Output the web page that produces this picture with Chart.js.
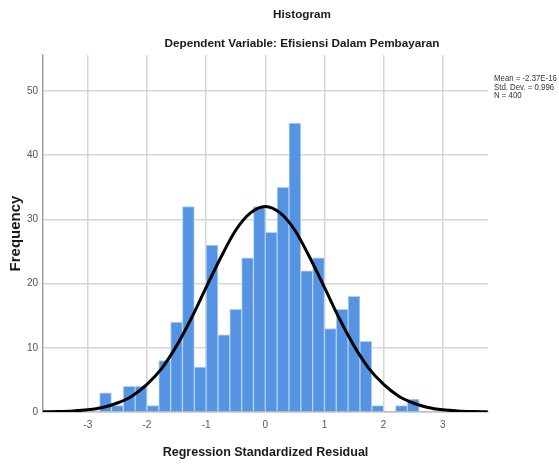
<!DOCTYPE html>
<html>
<head>
<meta charset="utf-8">
<script src="https://cdn.jsdelivr.net/npm/chart.js@4"></script>
<style>
    html, body { margin: 0; padding: 0; background: #fff; }
    #wrap { width: 559px; height: 464px; }
</style>
</head>
<body>
<div id="wrap"><canvas id="histChart" width="559" height="464"></canvas></div>
<script>
// Histogram bins (centres, width 0.2) and counts
const binCenters = [-2.7, -2.5, -2.3, -2.1, -1.9, -1.7, -1.5, -1.3, -1.1, -0.9, -0.7, -0.5, -0.3, -0.1,
                    0.1, 0.3, 0.5, 0.7, 0.9, 1.1, 1.3, 1.5, 1.7, 1.9, 2.1, 2.3, 2.5];
const counts = [3, 1, 4, 4, 1, 8, 14, 32, 7, 26, 12, 16, 24, 32,
                28, 35, 45, 22, 24, 13, 16, 18, 11, 1, 0, 1, 2];

// Normal curve
const curveX = [-3.76, -3.5, -3.25, -3, -2.75, -2.5, -2.25, -2, -1.75, -1.5, -1.25, -1, -0.75, -0.5, -0.25, 0,
                0.25, 0.5, 0.75, 1, 1.25, 1.5, 1.75, 2, 2.25, 2.5, 2.75, 3, 3.25, 3.5, 3.76];
const curveY = [0.03, 0.07, 0.16, 0.34, 0.7, 1.4, 2.5, 4.3, 6.8, 10.3, 14.6, 19.4, 24.1, 28.3, 31.0, 32.0,
                31.0, 28.3, 24.1, 19.4, 14.6, 10.3, 6.8, 4.3, 2.5, 1.4, 0.7, 0.34, 0.16, 0.07, 0.03];

// Axis ticks
const xTicks = [-3, -2, -1, 0, 1, 2, 3];
const yTicks = [0, 10, 20, 30, 40, 50];

const statsLines = ["Mean = -2.37E-16", "Std. Dev. = 0.996", "N = 400"];

const FONT = "Arial, 'Liberation Sans', sans-serif";

// Titles and stats text
const textPlugin = {
    id: "texts",
    afterDraw(chart) {
        const ctx = chart.ctx;
        ctx.save();
        ctx.fillStyle = "#1a1a1a";
        ctx.textAlign = "center";
        ctx.textBaseline = "middle";
        ctx.font = "bold 11.7px " + FONT;
        ctx.fillText("Histogram", 302, 15);
        ctx.fillText("Dependent Variable: Efisiensi Dalam Pembayaran", 302, 44);

        // narrow stats block on the right
        ctx.fillStyle = "#333";
        ctx.textAlign = "left";
        ctx.font = "9px " + FONT;
        ctx.translate(494, 0);
        ctx.scale(0.87, 1);
        statsLines.forEach((t, i) => ctx.fillText(t, 0, 79 + i * 8.5));
        ctx.restore();
    }
};

new Chart(document.getElementById("histChart"), {
    type: "bar",
    data: {
        datasets: [
            {
                type: "line",
                data: curveX.map((x, i) => ({ x, y: curveY[i] })),
                borderColor: "#000",
                borderWidth: 3,
                pointRadius: 0,
                cubicInterpolationMode: "monotone",
                fill: false,
                order: 0,
            },
            {
                type: "bar",
                data: binCenters.map((x, i) => ({ x, y: counts[i] })),
                backgroundColor: "#5494e3",
                borderColor: "#b4d0f3",
                borderWidth: 1,
                barPercentage: 1,
                categoryPercentage: 1,
                order: 1,
            },
        ],
    },
    options: {
        responsive: false,
        animation: false,
        layout: { padding: { top: 55, right: 71, left: 7, bottom: 4 } },
        plugins: { legend: { display: false }, tooltip: { enabled: false } },
        scales: {
            x: {
                type: "linear",
                min: -3.757,
                max: 3.764,
                offset: false,
                afterBuildTicks: axis => { axis.ticks = xTicks.map(v => ({ value: v })); },
                afterFit: s => { s.height = 48; },
                grid: { color: "#d6d6d6", lineWidth: 1.5, drawTicks: false, offset: false },
                border: { color: "#bdbdbd", width: 1.5 },
                ticks: { color: "#555", font: { family: FONT, size: 10 }, padding: 7, maxRotation: 0 },
                title: {
                    display: true,
                    text: "Regression Standardized Residual",
                    color: "#1a1a1a",
                    font: { family: FONT, size: 12.5, weight: "bold" },
                    padding: { top: 0, bottom: 0 },
                },
            },
            y: {
                min: 0,
                max: 55.6,
                afterBuildTicks: axis => { axis.ticks = yTicks.map(v => ({ value: v })); },
                afterFit: s => { s.width = 36; },
                grid: { color: "#d6d6d6", lineWidth: 1.5, drawTicks: false },
                border: { color: "#a0a0a0", width: 1.5 },
                ticks: { color: "#555", font: { family: FONT, size: 10 }, padding: 5 },
                title: {
                    display: true,
                    text: "Frequency",
                    color: "#1a1a1a",
                    font: { family: FONT, size: 15, weight: "bold" },
                    padding: { top: 0, bottom: 0 },
                },
            },
        },
    },
    plugins: [textPlugin],
});
</script>
</body>
</html>
